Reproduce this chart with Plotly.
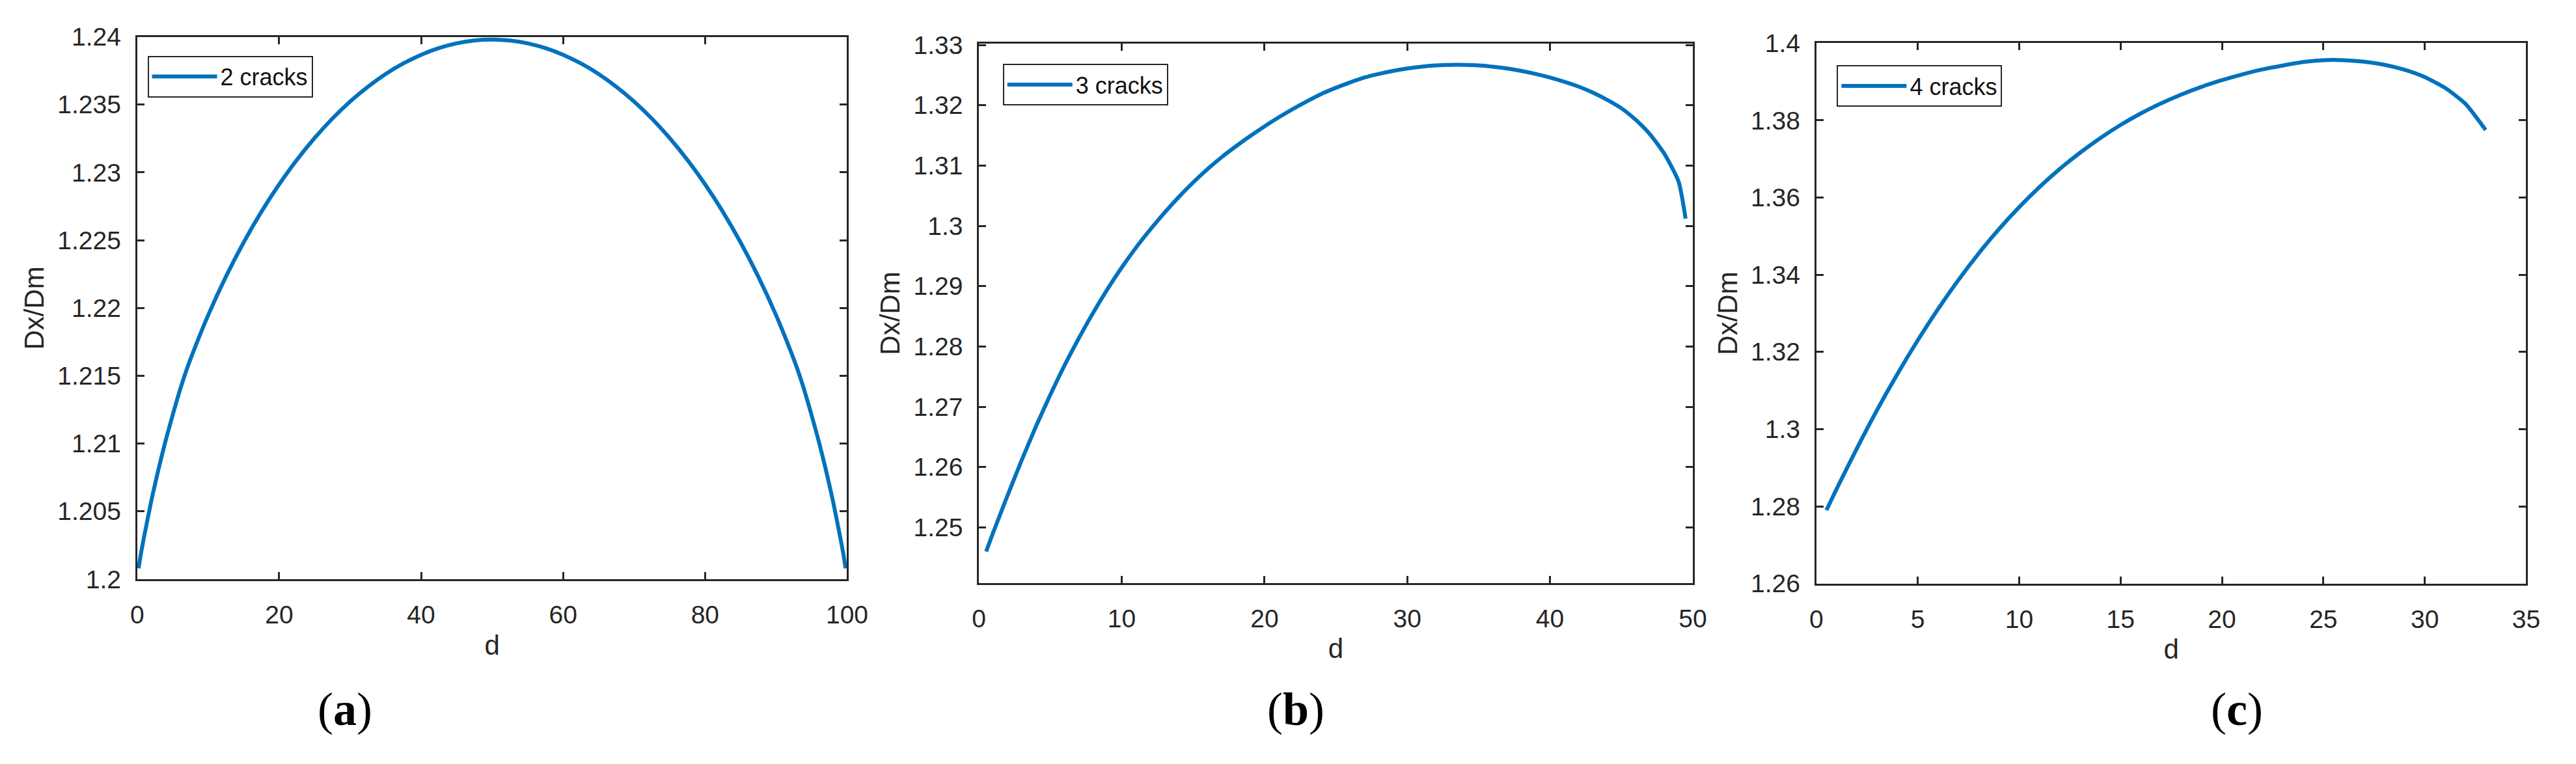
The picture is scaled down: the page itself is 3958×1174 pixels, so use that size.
import plotly.graph_objects as go

# ---------------- data ----------------
d_a = [0.2, 0.5, 1, 2, 3, 4, 5, 6, 7, 8,
       10, 12.5, 15, 17.5, 20, 22.5, 25, 27.5, 30, 32.5, 35, 37.5, 40, 42.5, 45, 47.5, 50,
       52.5, 55, 57.5, 60, 62.5, 65, 67.5, 70, 72.5, 75, 77.5, 80, 82.5, 85, 87.5, 90,
       92, 93, 94, 95, 96, 97, 98, 99, 99.5, 99.8]
v_a = [1.2008, 1.2018, 1.2032, 1.2058, 1.2081, 1.2102, 1.2121, 1.2139, 1.2155, 1.2169,
       1.21947, 1.22231, 1.22484, 1.22710, 1.22912, 1.23093, 1.23254, 1.23397, 1.23523,
       1.23632, 1.23726, 1.23804, 1.23868, 1.23917, 1.23952, 1.23973, 1.23980,
       1.23973, 1.23952, 1.23917, 1.23868, 1.23804, 1.23726, 1.23632, 1.23523, 1.23397,
       1.23254, 1.23093, 1.22912, 1.22710, 1.22484, 1.22231, 1.21947,
       1.2169, 1.2155, 1.2139, 1.2121, 1.2102, 1.2081, 1.2058, 1.2032, 1.2018, 1.2008]

d_b = [0.5, 1, 2, 3, 4, 5, 6, 7, 8, 9, 10, 11, 12, 13, 14, 15, 16, 17, 18, 19, 20, 21, 22,
       23, 24, 25, 26, 27, 28, 29, 30, 31, 32, 33, 34, 35, 36, 37, 38, 39, 40, 41, 42, 43,
       44, 45, 46, 47, 48, 49, 49.5]
v_b = [1.2460, 1.2492, 1.2553, 1.2612, 1.2668, 1.2720, 1.2769, 1.2814, 1.2856, 1.2895,
       1.2931, 1.2964, 1.2994, 1.3022, 1.3048, 1.3072, 1.3094, 1.3114, 1.3132, 1.3149,
       1.3165, 1.3180, 1.3194, 1.3207, 1.3219, 1.3229, 1.3238, 1.3246, 1.3252, 1.3257,
       1.3261, 1.3264, 1.3266, 1.3267, 1.3267, 1.3266, 1.3264, 1.3261, 1.3257, 1.3252,
       1.3246, 1.3239, 1.3231, 1.3221, 1.3209, 1.3195, 1.3176, 1.3152, 1.3120, 1.3074,
       1.3012]

d_c = [0.5, 1, 2, 3, 4, 5, 6, 7, 8, 9, 10, 11, 12, 13, 14, 15, 16, 17, 18, 19, 20, 21, 22,
       23, 24, 25, 26, 27, 28, 29, 30, 31, 32, 33]
v_c = [1.2790, 1.2845, 1.2950, 1.3050, 1.3143, 1.3230, 1.3311, 1.3386, 1.3455, 1.3518, 1.3575,
       1.3627, 1.3674, 1.3716, 1.3754, 1.3788, 1.3818, 1.3844, 1.3867, 1.3887, 1.3904, 1.3919,
       1.3932, 1.3942, 1.3951, 1.3956, 1.3956, 1.3952, 1.3944, 1.3931, 1.3912, 1.3884, 1.3843,
       1.3775]

names = ["2 cracks", "3 cracks", "4 cracks"]
captions = ["a", "b", "c"]

xt_a = [0, 20, 40, 60, 80, 100]
xt_b = [0, 10, 20, 30, 40, 50]
xt_c = [0, 5, 10, 15, 20, 25, 30, 35]
yt_a = [1.2, 1.205, 1.21, 1.215, 1.22, 1.225, 1.23, 1.235, 1.24]
yl_a = ["1.2", "1.205", "1.21", "1.215", "1.22", "1.225", "1.23", "1.235", "1.24"]
yt_b = [1.25, 1.26, 1.27, 1.28, 1.29, 1.3, 1.31, 1.32, 1.33]
yl_b = ["1.25", "1.26", "1.27", "1.28", "1.29", "1.3", "1.31", "1.32", "1.33"]
yt_c = [1.26, 1.28, 1.3, 1.32, 1.34, 1.36, 1.38, 1.4]
yl_c = ["1.26", "1.28", "1.3", "1.32", "1.34", "1.36", "1.38", "1.4"]

# ---------------- layout geometry ----------------
W, H = 3958, 1174
AX = "#262626"
BLUE = "#0072BD"
FONT = "Liberation Sans, Arial, Helvetica, sans-serif"


def px_x(p):
    return p / W


def px_y(p):
    return 1 - p / H


panels = [
    dict(xdom=(202, 1305), ydom=(902, 37), xr=[0, 100], yr=[1.2, 1.24], xt=xt_a, yt=yt_a, yl=yl_a,
         leg=(218, 67), cap=525),
    dict(xdom=(1510, 2619), ydom=(908, 48), xr=[0, 50], yr=[1.2408, 1.3302], xt=xt_b, yt=yt_b, yl=yl_b,
         leg=(1547, 80), cap=2002),
    dict(xdom=(2811, 3914), ydom=(909, 47), xr=[0, 35], yr=[1.26, 1.40], xt=xt_c, yt=yt_c, yl=yl_c,
         leg=(2843, 82), cap=3465),
]
data = [(d_a, v_a), (d_b, v_b), (d_c, v_c)]

fig = go.Figure()
layout = dict(
    width=W, height=H, autosize=False,
    margin=dict(l=0, r=0, t=0, b=0),
    paper_bgcolor="white", plot_bgcolor="white",
    font=dict(family=FONT, color=AX),
    annotations=[],
)

common = dict(showline=True, linecolor=AX, linewidth=3, mirror="ticks", ticks="inside",
              ticklen=11, tickwidth=2.5, tickcolor=AX, showgrid=False, zeroline=False,
              tickfont=dict(family=FONT, size=39, color=AX))

for i, (p, (xs, ys)) in enumerate(zip(panels, data)):
    sfx = "" if i == 0 else str(i + 1)
    leg = "legend" if i == 0 else f"legend{i + 1}"
    fig.add_trace(go.Scatter(
        x=xs, y=ys, mode="lines", name=names[i],
        line=dict(color=BLUE, width=6, shape="spline", smoothing=0.6),
        xaxis="x" + sfx, yaxis="y" + sfx, legend=leg, showlegend=True,
    ))
    layout["xaxis" + sfx] = dict(
        common, domain=[px_x(p["xdom"][0]), px_x(p["xdom"][1])], range=p["xr"],
        anchor="y" + sfx, tickvals=p["xt"], ticktext=[str(v) for v in p["xt"]],
        ticklabelstandoff=18,
        title=dict(text="d", font=dict(family=FONT, size=42, color=AX), standoff=12),
    )
    layout["yaxis" + sfx] = dict(
        common, domain=[px_y(p["ydom"][0]), px_y(p["ydom"][1])], range=p["yr"],
        anchor="x" + sfx, tickvals=p["yt"], ticktext=p["yl"],
        ticklabelstandoff=14,
        title=dict(text="Dx/Dm", font=dict(family=FONT, size=42, color=AX), standoff=8),
    )
    layout[leg] = dict(
        x=px_x(p["leg"][0]), y=px_y(p["leg"][1]), xanchor="left", yanchor="top",
        xref="paper", yref="paper",
        bgcolor="white", bordercolor=AX, borderwidth=2,
        font=dict(family=FONT, size=36, color="#111111"),
        itemwidth=100, tracegroupgap=0,
    )
    layout["annotations"].append(dict(
        text=f"(<b>{captions[i]}</b>)", x=px_x(p["cap"]), y=px_y(1110),
        xref="paper", yref="paper", xanchor="center", yanchor="middle", showarrow=False,
        font=dict(family="Liberation Serif, Times New Roman, serif", size=72, color="black"),
    ))

fig.update_layout(**layout)
fig.write_html("out.html", config={"displayModeBar": False},
               post_script="document.body.style.margin='0';")
